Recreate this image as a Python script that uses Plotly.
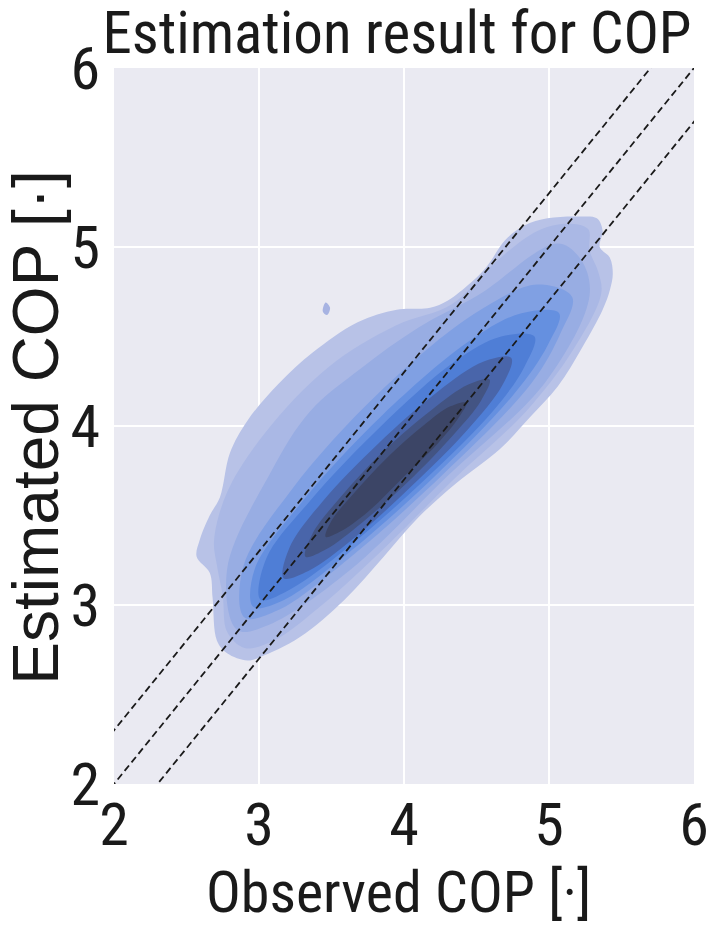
import plotly.graph_objects as go

# ---- data ----
TITLE = "Estimation result for COP"
X_LABEL = "Observed COP [·]"
Y_LABEL = "Estimated COP [·]"
TICKS = [2, 3, 4, 5, 6]

# filled KDE contour levels (outer -> inner); x = observed COP, y = estimated COP
L1_X = [2.92, 2.78, 2.71, 2.68, 2.66, 2.57, 2.59, 2.66, 2.73, 2.80, 2.92, 3.14, 3.37, 3.68, 3.95, 4.18, 4.30, 4.46, 4.57, 4.70, 4.83, 4.99, 5.20, 5.33, 5.37, 5.35, 5.42, 5.44, 5.42, 5.37, 5.23, 5.06, 4.87, 4.66, 4.36, 4.10, 3.86, 3.59, 3.28, 3.01]
L1_Y = [2.69, 2.73, 2.80, 3.04, 3.18, 3.27, 3.36, 3.50, 3.60, 3.85, 4.03, 4.24, 4.41, 4.58, 4.65, 4.66, 4.70, 4.80, 4.89, 5.04, 5.12, 5.16, 5.17, 5.16, 5.09, 5.00, 4.94, 4.85, 4.76, 4.65, 4.44, 4.22, 4.05, 3.87, 3.68, 3.49, 3.27, 3.03, 2.82, 2.71]

L2_X = [2.90, 2.78, 2.75, 2.71, 2.69, 2.78, 3.04, 3.48, 3.94, 4.33, 4.61, 4.92, 5.13, 5.27, 5.28, 5.34, 5.36, 5.17, 4.84, 4.34, 3.88, 3.42, 3.10]
L2_Y = [2.76, 2.85, 3.05, 3.22, 3.36, 3.63, 3.96, 4.33, 4.56, 4.68, 4.90, 5.09, 5.13, 5.10, 4.98, 4.86, 4.74, 4.43, 4.08, 3.70, 3.33, 2.99, 2.80]

L3_X = [2.85, 2.78, 3.08, 3.35, 3.70, 4.10, 4.51, 5.06, 5.22, 5.28, 4.98, 4.30, 3.62, 3.07]
L3_Y = [2.86, 3.20, 3.74, 4.08, 4.32, 4.55, 4.73, 5.02, 4.93, 4.73, 4.25, 3.72, 3.19, 2.89]

L4_X = [2.90, 2.89, 3.23, 3.82, 4.49, 4.92, 5.16, 5.08, 4.88, 4.27, 3.62, 3.13]
L4_Y = [2.93, 3.21, 3.65, 4.18, 4.63, 4.79, 4.72, 4.52, 4.24, 3.73, 3.26, 2.97]

L5_X = [2.96, 2.97, 3.30, 3.85, 4.46, 4.81, 5.07, 4.99, 4.76, 4.20, 3.60, 3.15]
L5_Y = [2.99, 3.20, 3.58, 4.06, 4.48, 4.63, 4.63, 4.45, 4.18, 3.71, 3.28, 3.02]

L6_X = [3.01, 3.05, 3.35, 3.83, 4.35, 4.67, 4.90, 4.83, 4.62, 4.13, 3.61, 3.22]
L6_Y = [3.03, 3.26, 3.58, 3.99, 4.36, 4.50, 4.50, 4.33, 4.09, 3.69, 3.32, 3.09]

L7_X = [3.17, 3.21, 3.44, 3.82, 4.23, 4.55, 4.74, 4.68, 4.44, 4.06, 3.65, 3.34]
L7_Y = [3.15, 3.32, 3.58, 3.90, 4.19, 4.36, 4.38, 4.23, 3.98, 3.67, 3.37, 3.19]

L8_X = [3.32, 3.37, 3.56, 3.86, 4.19, 4.44, 4.59, 4.53, 4.34, 4.03, 3.71, 3.46]
L8_Y = [3.27, 3.40, 3.60, 3.86, 4.09, 4.23, 4.26, 4.14, 3.95, 3.69, 3.46, 3.31]

L9_X = [3.46, 3.50, 3.65, 3.88, 4.13, 4.32, 4.43, 4.38, 4.23, 3.99, 3.75, 3.56]
L9_Y = [3.38, 3.47, 3.62, 3.82, 4.00, 4.11, 4.13, 4.05, 3.90, 3.71, 3.52, 3.41]

SPECK_X = [3.44, 3.47, 3.49, 3.46]
SPECK_Y = [4.64, 4.62, 4.66, 4.69]

LEVELS_X = [L1_X, L2_X, L3_X, L4_X, L5_X, L6_X, L7_X, L8_X, L9_X]
LEVELS_Y = [L1_Y, L2_Y, L3_Y, L4_Y, L5_Y, L6_Y, L7_Y, L8_Y, L9_Y]
LEVEL_COLORS = ["#B8C2E7", "#AAB8E5", "#98ADE3", "#80A0E3", "#6590E0", "#4F7ED6", "#4965AA", "#435483", "#3C4566"]

# reference dashed lines: estimated = observed + offset
LINE_OFFSETS = [0.3, 0.0, -0.3]
LINE_X = [1.5, 6.5]

COND = "Roboto Condensed, Liberation Sans, sans-serif"
REGULAR = "Liberation Sans, Arial, Helvetica, sans-serif"
INK = "#1a1a1a"

fig = go.Figure()

for xs, ys, col in zip(LEVELS_X, LEVELS_Y, LEVEL_COLORS):
    fig.add_trace(go.Scatter(
        x=xs + xs[:1], y=ys + ys[:1], mode="lines", fill="toself",
        fillcolor=col, line=dict(width=0, color=col, shape="spline", smoothing=1.0),
        hoverinfo="skip", showlegend=False))

fig.add_trace(go.Scatter(
    x=SPECK_X + SPECK_X[:1], y=SPECK_Y + SPECK_Y[:1], mode="lines", fill="toself",
    fillcolor="#A7B3E2", line=dict(width=0, color="#A7B3E2", shape="spline"),
    hoverinfo="skip", showlegend=False))

for off in LINE_OFFSETS:
    fig.add_trace(go.Scatter(
        x=LINE_X, y=[v + off for v in LINE_X], mode="lines",
        line=dict(color=INK, width=1.8, dash="7px,4px"),
        hoverinfo="skip", showlegend=False))

axis_common = dict(
    range=[2, 6], tickvals=TICKS, ticktext=[str(t) for t in TICKS],
    showgrid=True, gridcolor="white", gridwidth=1.6,
    zeroline=False, showline=False, ticks="", automargin=False,
    tickfont=dict(family=COND, size=60, color=INK),
)

fig.update_layout(
    width=716, height=934,
    margin=dict(l=114, r=22, t=68, b=150),
    paper_bgcolor="white", plot_bgcolor="#EAEAF2",
    title=dict(text=TITLE, x=0.5545, xanchor="center", y=0.965, yanchor="middle",
               xref="container", yref="container",
               font=dict(family=COND, size=59, color=INK)),
    xaxis=dict(**axis_common, ticklabelstandoff=0),
    yaxis=dict(**axis_common, ticklabelstandoff=13),
    annotations=[
        dict(text=X_LABEL, xref="paper", yref="paper", x=0.49, y=-0.151,
             xanchor="center", yanchor="middle", showarrow=False,
             font=dict(family=COND, size=58, color=INK)),
        dict(text=Y_LABEL, xref="paper", yref="paper", x=-0.135, y=0.4986,
             xanchor="center", yanchor="middle", showarrow=False, textangle=-90,
             font=dict(family=REGULAR, size=64, color=INK)),
    ],
)

fig.write_html("out.html", config={"displayModeBar": False},
               post_script="document.body.style.margin='0';")
